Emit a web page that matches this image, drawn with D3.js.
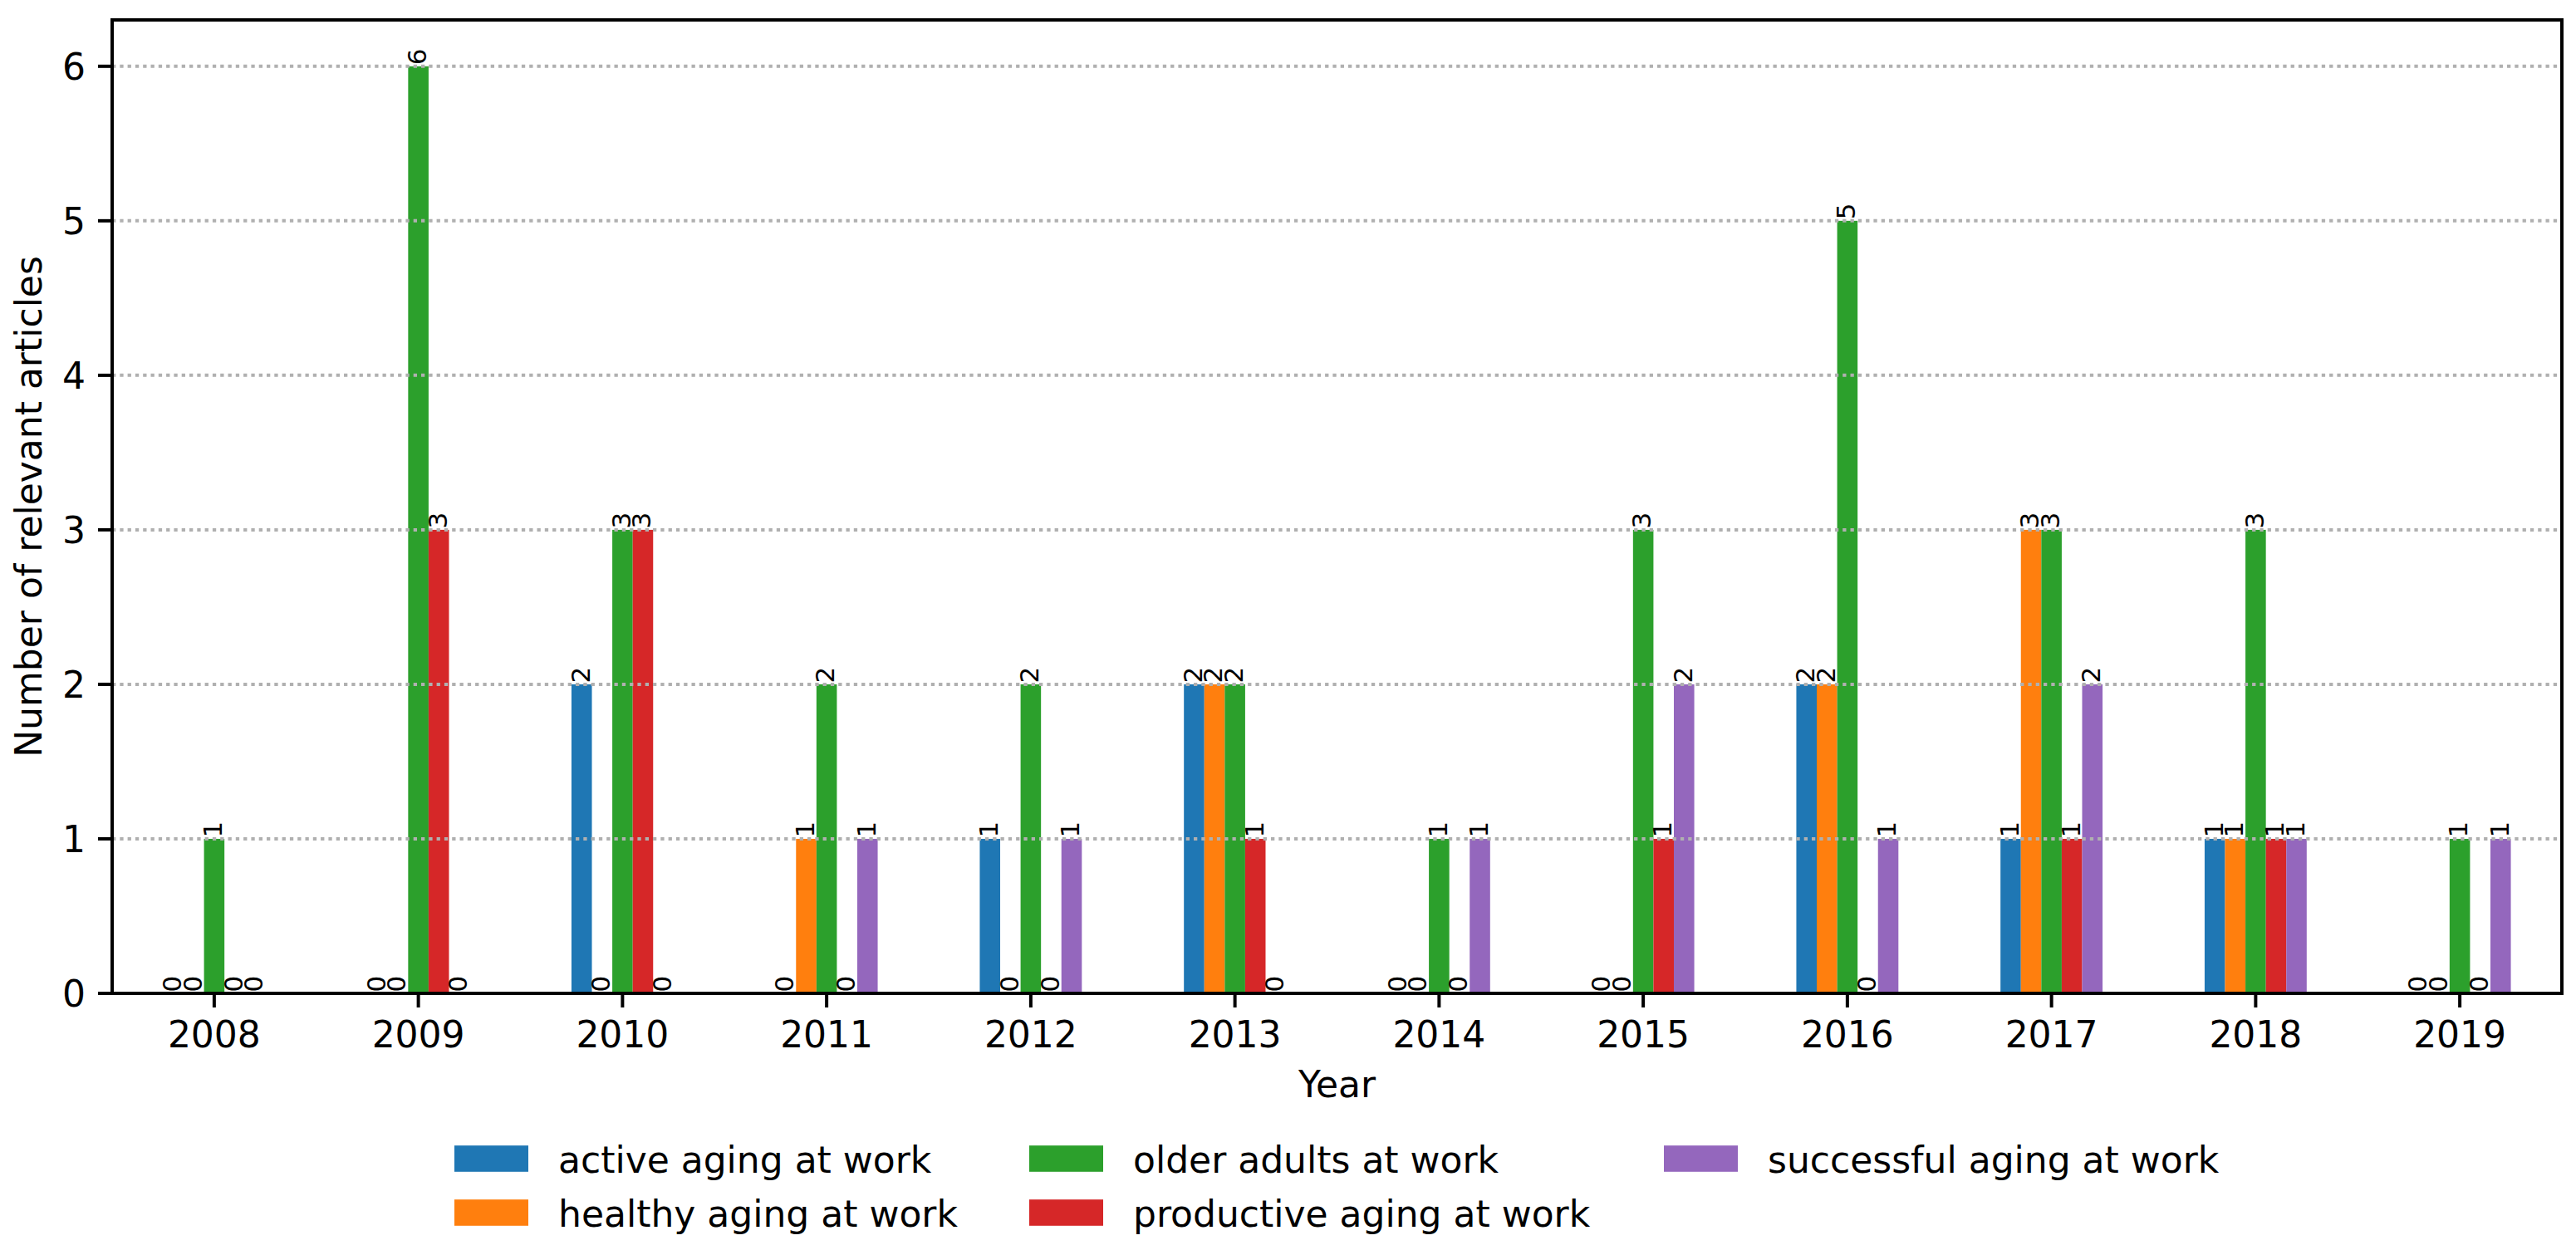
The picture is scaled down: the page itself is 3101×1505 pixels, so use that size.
<!DOCTYPE html>
<html>
<head>
<meta charset="utf-8">
<script src="https://cdn.jsdelivr.net/npm/d3@7"></script>
<style>
  html, body { margin: 0; padding: 0; background: #fff; }
  svg text { font-family: "DejaVu Sans", sans-serif; fill: #000; }
</style>
</head>
<body>
<svg id="chart" width="3101" height="1505"></svg>
<script>
const years = ["2008","2009","2010","2011","2012","2013","2014","2015","2016","2017","2018","2019"];
const seriesNames = ["active aging at work","healthy aging at work","older adults at work","productive aging at work","successful aging at work"];
const seriesColors = ["#1f77b4","#ff7f0e","#2ca02c","#d62728","#9467bd"];
const activeAging     = [0,0,2,0,1,2,0,0,2,1,1,0];
const healthyAging    = [0,0,0,1,0,2,0,0,2,3,1,0];
const olderAdults     = [1,6,3,2,2,2,1,3,5,3,3,1];
const productiveAging = [0,3,3,0,0,1,0,1,0,1,1,0];
const successfulAging = [0,0,0,1,1,0,1,2,1,2,1,1];
const yTicks = [0,1,2,3,4,5,6];
const yMax = 6.3;

const seriesValues = [activeAging, healthyAging, olderAdults, productiveAging, successfulAging];

const svg = d3.select("#chart");
const L = 135, R = 3084, T = 24, B = 1196;

const x = d3.scaleBand().domain(years).range([L, R]).padding(0);
const bw = x.bandwidth();
const xs = d3.scaleBand().domain(seriesNames).range([bw * 0.25, bw * 0.75]).padding(0);
const y = d3.scaleLinear().domain([0, yMax]).range([B, T]);

// bars
const data = [];
seriesNames.forEach((s, i) => {
  years.forEach((yr, j) => data.push({s, i, yr, v: seriesValues[i][j]}));
});
svg.append("g").selectAll("rect").data(data).join("rect")
  .attr("x", d => x(d.yr) + xs(d.s))
  .attr("width", xs.bandwidth())
  .attr("y", d => y(d.v))
  .attr("height", d => y(0) - y(d.v))
  .attr("fill", d => seriesColors[d.i]);

// grid (drawn above bars as in matplotlib)
svg.append("g").selectAll("line").data(yTicks.filter(t => t > 0)).join("line")
  .attr("x1", L).attr("x2", R)
  .attr("y1", d => y(d)).attr("y2", d => y(d))
  .attr("stroke", "#b0b0b0").attr("stroke-width", 4)
  .attr("stroke-dasharray", "4.3,5");

// value labels
svg.append("g").selectAll("text").data(data).join("text")
  .attr("transform", d => `translate(${x(d.yr) + xs(d.s) + xs.bandwidth()/2},${y(d.v) - 1.5}) rotate(-90)`)
  .attr("dy", "0.3em")
  .attr("text-anchor", "start")
  .style("font-size", "31px")
  .text(d => d.v);

// spines
svg.append("rect").attr("x", L).attr("y", T).attr("width", R - L).attr("height", B - T)
  .attr("fill", "none").attr("stroke", "#000").attr("stroke-width", 4);

// x axis ticks
const xa = svg.append("g");
xa.selectAll("line").data(years).join("line")
  .attr("x1", d => x(d) + bw/2).attr("x2", d => x(d) + bw/2)
  .attr("y1", B).attr("y2", B + 17)
  .attr("stroke", "#000").attr("stroke-width", 4);
xa.selectAll("text").data(years).join("text")
  .attr("x", d => x(d) + bw/2).attr("y", 1261)
  .attr("text-anchor", "middle").style("font-size", "44px")
  .text(d => d);

// y axis ticks
const ya = svg.append("g");
ya.selectAll("line").data(yTicks).join("line")
  .attr("x1", L - 17).attr("x2", L)
  .attr("y1", d => y(d)).attr("y2", d => y(d))
  .attr("stroke", "#000").attr("stroke-width", 4);
ya.selectAll("text").data(yTicks).join("text")
  .attr("x", 103).attr("y", d => y(d))
  .attr("dy", "0.36em")
  .attr("text-anchor", "end").style("font-size", "44px")
  .text(d => d);

// axis titles
svg.append("text").attr("x", (L + R)/2).attr("y", 1321)
  .attr("text-anchor", "middle").style("font-size", "44px").text("Year");
svg.append("text")
  .attr("transform", `translate(50,${(T + B)/2}) rotate(-90)`)
  .attr("text-anchor", "middle").style("font-size", "44px")
  .text("Number of relevant articles");

// legend: 3 columns, filled column-wise
const colX = [547, 1239, 2003];
const rowY = [1395, 1460];
const leg = svg.append("g").selectAll("g").data(seriesNames).join("g")
  .attr("transform", (d, i) => `translate(${colX[Math.floor(i/2)]},${rowY[i % 2]})`);
leg.append("rect").attr("x", 0).attr("y", -15.8).attr("width", 89).attr("height", 31.6)
  .attr("fill", (d, i) => seriesColors[i]);
leg.append("text").attr("x", 125).attr("y", 0).attr("dy", "0.38em")
  .style("font-size", "44px").text(d => d);
</script>
</body>
</html>
